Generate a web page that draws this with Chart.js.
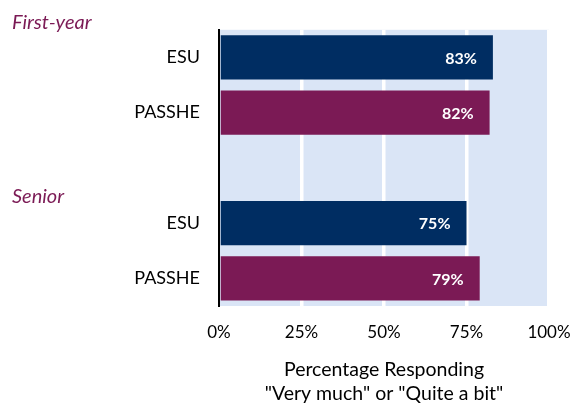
<!DOCTYPE html>
<html>
<head>
<meta charset="utf-8">
<script src="https://cdn.jsdelivr.net/npm/chart.js@4.4.0/dist/chart.umd.min.js"></script>
<style>
  html, body { margin: 0; padding: 0; background: #fff; }
  #wrap { width: 584px; height: 405px; }
</style>
</head>
<body>
<div id="wrap"><canvas id="chart"></canvas></div>
<script>
// bars, top to bottom (blank row separates the two groups)
const categories = ["ESU", "PASSHE", "", "ESU", "PASSHE"];
const values = [83, 82, null, 75, 79];
const barColors = ["#002D62", "#7B1A55", "#002D62", "#002D62", "#7B1A55"];
const groupLabels = ["First-year", "Senior"];
const xTicks = [0, 25, 50, 75, 100];
const axisTitle = ["Percentage Responding", '"Very much" or "Quite a bit"'];

const FONT = "Lato";

// light blue plot background
const plotBg = {
  id: "plotBg",
  beforeDraw: (chart) => {
    const { ctx, chartArea } = chart;
    ctx.save();
    ctx.fillStyle = "#DAE5F6";
    ctx.fillRect(chartArea.left, chartArea.top, chartArea.right - chartArea.left, chartArea.bottom - chartArea.top);
    ctx.restore();
  },
};

// value labels inside bar ends + group headings
const barLabels = {
  id: "barLabels",
  afterDatasetsDraw: (chart) => {
    const ctx = chart.ctx;
    const meta = chart.getDatasetMeta(0);
    ctx.save();
    ctx.fillStyle = "#fff";
    ctx.font = "bold 16px " + FONT;
    ctx.textAlign = "right";
    ctx.textBaseline = "middle";
    meta.data.forEach((bar, i) => {
      if (values[i] == null) return;
      ctx.fillText(values[i] + "%", bar.x - 16, bar.y + 1);
    });
    ctx.restore();
  },
  afterDraw: (chart) => {
    const ctx = chart.ctx;
    const y = chart.scales.y;
    ctx.save();
    ctx.fillStyle = "#7B1A55";
    ctx.font = "italic 20px " + FONT;
    ctx.textAlign = "left";
    ctx.textBaseline = "middle";
    ctx.fillText(groupLabels[0], 12, chart.chartArea.top - 7);
    ctx.fillText(groupLabels[1], 12, y.getPixelForValue(2) + 29);
    ctx.restore();
  },
};

new Chart(document.getElementById("chart"), {
  type: "bar",
  data: {
    labels: categories,
    datasets: [{
      data: values,
      backgroundColor: barColors,
      barPercentage: 0.8,
      categoryPercentage: 1,
    }],
  },
  options: {
    indexAxis: "y",
    responsive: true,
    maintainAspectRatio: false,
    animation: false,
    layout: { padding: { top: 24, right: 35, left: 0, bottom: 0 } },
    scales: {
      x: {
        min: 0,
        max: 100,
        afterBuildTicks: (scale) => { scale.ticks = xTicks.map((v) => ({ value: v })); },
        afterFit: (scale) => {
          scale.height = 99;
          scale.paddingRight = 0;
          scale.paddingLeft = 0;
        },
        ticks: {
          callback: (v) => v + "%",
          color: "#000",
          font: { family: FONT, size: 17 },
          padding: 16,
          maxRotation: 0,
        },
        grid: {
          color: (c) => (c.index === 0 ? "rgba(0,0,0,0)" : "#fff"),
          lineWidth: 3.5,
          drawTicks: false,
        },
        border: { display: false },
        title: {
          display: true,
          text: axisTitle,
          color: "#000",
          font: { family: FONT, size: 19.5 },
          padding: { top: 14, bottom: 0 },
        },
      },
      y: {
        afterFit: (scale) => { scale.width = 219; },
        ticks: {
          color: "#000",
          font: { family: FONT, size: 18 },
          padding: 19,
        },
        grid: { display: false, drawTicks: false },
        border: { display: true, color: "#000", width: 2 },
      },
    },
    plugins: {
      legend: { display: false },
      tooltip: { enabled: false },
    },
  },
  plugins: [plotBg, barLabels],
});
</script>
</body>
</html>
